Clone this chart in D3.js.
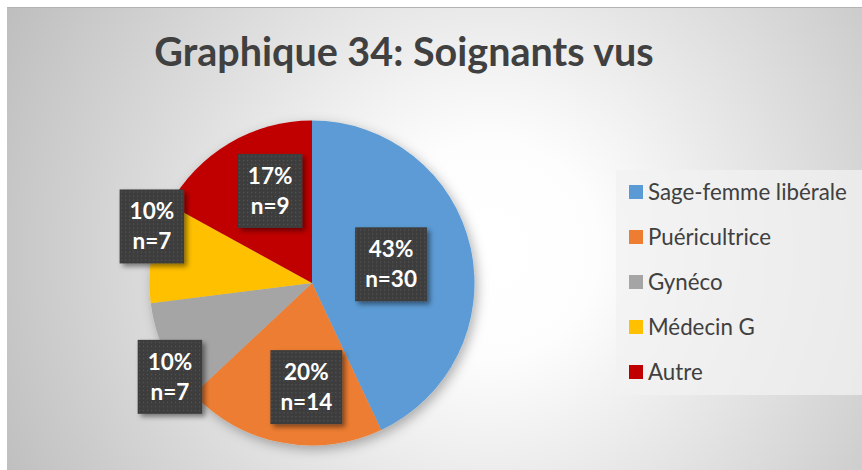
<!DOCTYPE html>
<html>
<head>
<meta charset="utf-8">
<script src="https://cdn.jsdelivr.net/npm/d3@7"></script>
<style>
  html, body { margin: 0; padding: 0; background: #ffffff; }
  svg { display: block; }
</style>
</head>
<body>
<svg id="chart" width="862" height="470"></svg>
<script>
// Soignants vus — répartition des professionnels consultés
const categories = ["Sage-femme libérale", "Puéricultrice", "Gynéco", "Médecin G", "Autre"];
const percents = [43, 20, 10, 10, 17];
const counts = [30, 14, 7, 7, 9];
const colors = ["#5B9BD5", "#ED7D31", "#A5A5A5", "#FFC000", "#C00000"];
const title = "Graphique 34: Soignants vus";

// label placement: radius along the slice bisector plus a small nudge
const labelLayout = [
  { r: 81,  dx: 0,   dy: -1 },
  { r: 105, dx: 14,  dy: 1 },
  { r: 157, dx: 0,   dy: 27 },
  { r: 163, dx: 0,   dy: -26 },
  { r: 100, dx: 9,   dy: -6 }
];

const W = 862, H = 470;
const svg = d3.select("#chart");
const defs = svg.append("defs");

// chart area background: soft radial gradient
const bg = defs.append("radialGradient")
  .attr("id", "bgGrad")
  .attr("gradientUnits", "userSpaceOnUse")
  .attr("cx", 490).attr("cy", 250).attr("r", 540);
bg.append("stop").attr("offset", 0).attr("stop-color", "#ffffff");
bg.append("stop").attr("offset", 0.2).attr("stop-color", "#fdfdfd");
bg.append("stop").attr("offset", 1).attr("stop-color", "#bebebe");

// pie shadow
const pieShadow = defs.append("filter").attr("id", "pieShadow")
  .attr("x", "-20%").attr("y", "-20%").attr("width", "140%").attr("height", "140%");
pieShadow.append("feDropShadow")
  .attr("dx", 3).attr("dy", 4).attr("stdDeviation", 6)
  .attr("flood-color", "#000").attr("flood-opacity", 0.3);

// label box shadow
const boxShadow = defs.append("filter").attr("id", "boxShadow")
  .attr("x", "-30%").attr("y", "-30%").attr("width", "160%").attr("height", "160%");
boxShadow.append("feDropShadow")
  .attr("dx", 3).attr("dy", 3).attr("stdDeviation", 2.5)
  .attr("flood-color", "#000").attr("flood-opacity", 0.45);

// dotted texture for the label boxes
const pat = defs.append("pattern").attr("id", "dots")
  .attr("patternUnits", "userSpaceOnUse").attr("width", 4).attr("height", 4);
pat.append("rect").attr("width", 4).attr("height", 4).attr("fill", "#3d3d3d");
pat.append("rect").attr("x", 1).attr("y", 1).attr("width", 1.2).attr("height", 1.2).attr("fill", "#555555");

// chart area
svg.append("rect")
  .attr("x", 7).attr("y", 7).attr("width", W - 7).attr("height", H - 7)
  .attr("fill", "url(#bgGrad)");
svg.append("line")
  .attr("x1", 7).attr("x2", W).attr("y1", 7.5).attr("y2", 7.5)
  .attr("stroke", "#b4b4b4").attr("stroke-width", 1);

// title
svg.append("text")
  .attr("x", 404).attr("y", 66)
  .attr("text-anchor", "middle")
  .attr("font-family", "Lato, 'Open Sans', sans-serif")
  .attr("font-weight", 700)
  .attr("font-size", 39.5)
  .attr("fill", "#404040")
  .text(title);

// pie
const cx = 312, cy = 283, R = 162.5;
const pie = d3.pie().sort(null).value(d => d).startAngle(0).endAngle(2 * Math.PI);
const arcs = pie(percents);
const arc = d3.arc().innerRadius(0).outerRadius(R);

const g = svg.append("g").attr("transform", `translate(${cx},${cy})`);
g.append("g").attr("filter", "url(#pieShadow)")
  .selectAll("path")
  .data(arcs)
  .join("path")
  .attr("d", arc)
  .attr("fill", (d, i) => colors[i]);

// data labels
const labels = g.selectAll("g.lbl")
  .data(arcs)
  .join("g")
  .attr("class", "lbl")
  .attr("transform", (d, i) => {
    const L = labelLayout[i];
    const mid = (d.startAngle + d.endAngle) / 2;
    const x = Math.sin(mid) * L.r + L.dx;
    const y = -Math.cos(mid) * L.r + L.dy;
    return `translate(${x},${y})`;
  });

labels.each(function(d, i) {
  const sel = d3.select(this);
  const box = sel.append("rect").attr("fill", "url(#dots)").attr("filter", "url(#boxShadow)");
  const t1 = sel.append("text")
    .attr("text-anchor", "middle").attr("y", -7)
    .attr("font-family", "Lato, sans-serif").attr("font-weight", 700)
    .attr("font-size", 22.5).attr("fill", "#ffffff")
    .text(percents[i] + "%");
  const t2 = sel.append("text")
    .attr("text-anchor", "middle").attr("y", 23)
    .attr("font-family", "Lato, sans-serif").attr("font-weight", 700)
    .attr("font-size", 22.5).attr("fill", "#ffffff")
    .text("n=" + counts[i]);
  const w = Math.max(t1.node().getComputedTextLength(), t2.node().getComputedTextLength()) + 20;
  const h = 74;
  box.attr("x", -w / 2).attr("y", -h / 2).attr("width", w).attr("height", h);
});

// legend
svg.append("rect")
  .attr("x", 616).attr("y", 170).attr("width", 246).attr("height", 225)
  .attr("fill", "#f2f2f2").attr("fill-opacity", 0.75);

const legend = svg.append("g").attr("transform", "translate(629,192)");
const items = legend.selectAll("g")
  .data(categories)
  .join("g")
  .attr("transform", (d, i) => `translate(0,${i * 45})`);
items.append("rect")
  .attr("x", 0).attr("y", -7).attr("width", 14).attr("height", 14)
  .attr("fill", (d, i) => colors[i]);
items.append("text")
  .attr("x", 19).attr("y", 7.5)
  .attr("font-family", "Lato, sans-serif")
  .attr("font-size", 22.3)
  .attr("fill", "#404040")
  .text(d => d);
</script>
</body>
</html>
